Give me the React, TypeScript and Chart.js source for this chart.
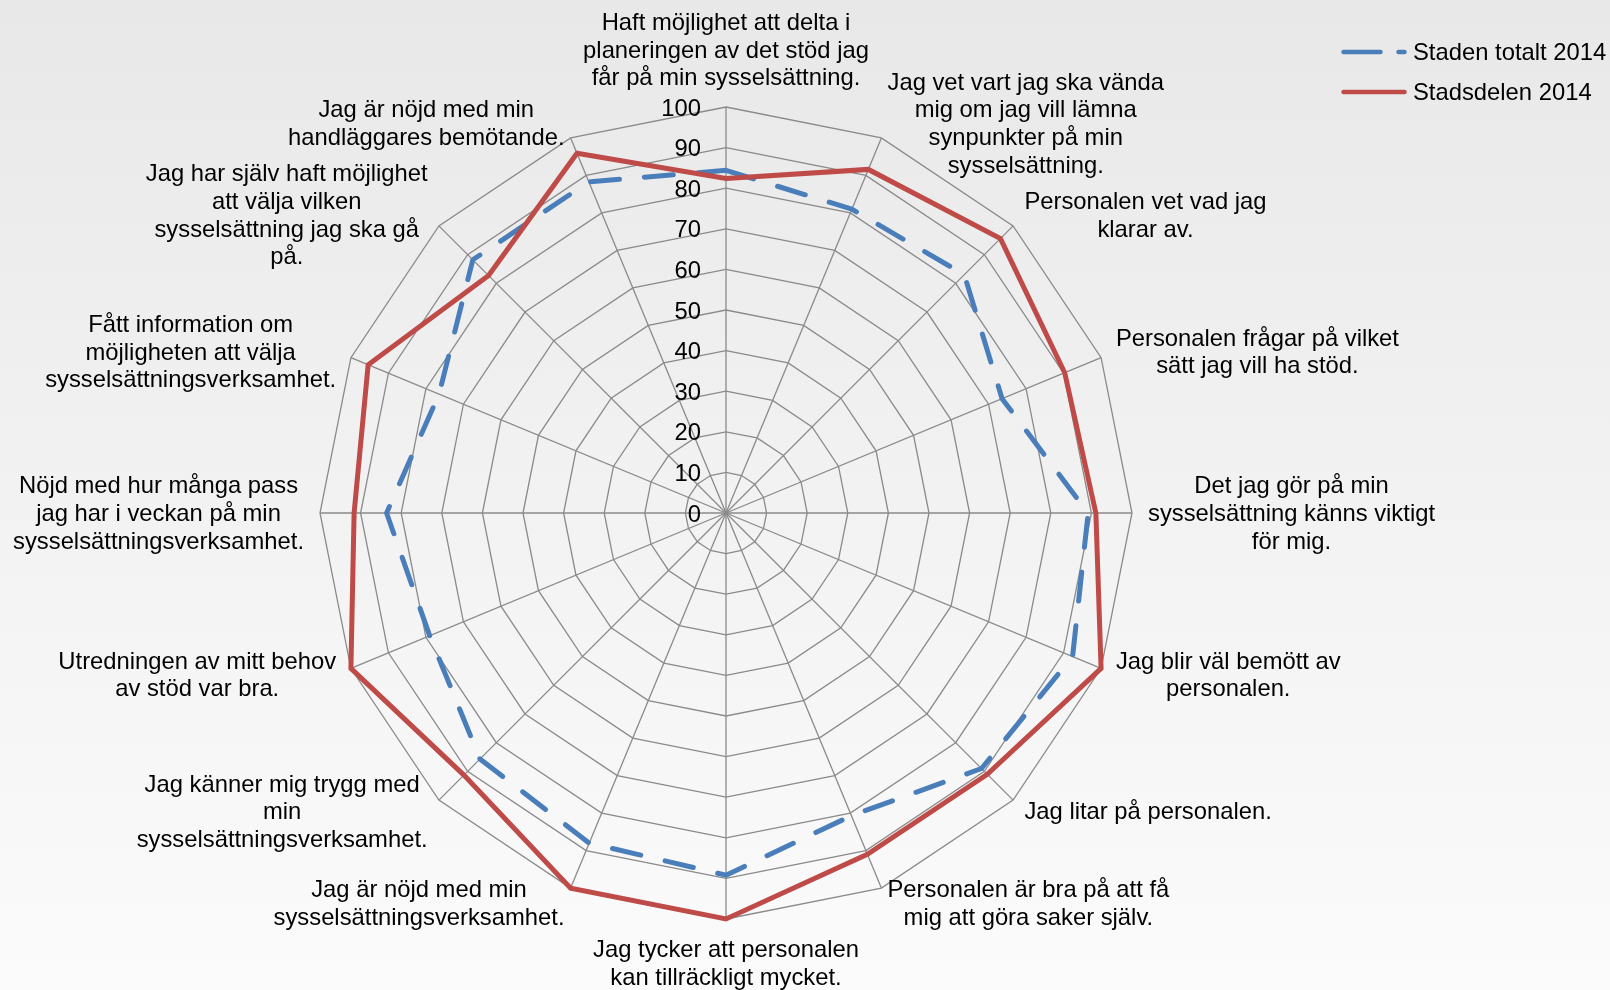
import React, { useEffect, useRef } from "react";
import { Chart, registerables } from "chart.js";

Chart.register(...registerables);

// ---- Data ----
const categories: string[][] = [
  ["Haft möjlighet att delta i", "planeringen av det stöd jag", "får på min sysselsättning."],
  ["Jag vet vart jag ska vända", "mig om jag vill lämna", "synpunkter på min", "sysselsättning."],
  ["Personalen vet vad jag", "klarar av."],
  ["Personalen frågar på vilket", "sätt jag vill ha stöd."],
  ["Det jag gör på min", "sysselsättning känns viktigt", "för mig."],
  ["Jag blir väl bemött av", "personalen."],
  ["Jag litar på personalen."],
  ["Personalen är bra på att få", "mig att göra saker själv."],
  ["Jag tycker att personalen", "kan tillräckligt mycket."],
  ["Jag är nöjd med min", "sysselsättningsverksamhet."],
  ["Jag känner mig trygg med", "min", "sysselsättningsverksamhet."],
  ["Utredningen av mitt behov", "av stöd var bra."],
  ["Nöjd med hur många pass", "jag har i veckan på min", "sysselsättningsverksamhet."],
  ["Fått information om", "möjligheten att välja", "sysselsättningsverksamhet."],
  ["Jag har själv haft möjlighet", "att välja vilken", "sysselsättning jag ska gå", "på."],
  ["Jag är nöjd med min", "handläggares bemötande."],
];

const stadenTotalt2014 = [84.4, 81, 83, 73.6, 89.2, 92.4, 89, 80.7, 89.2, 88, 85.7, 79, 83.6, 76.5, 88.2, 88.3];
const stadsdelen2014 = [82.4, 91.6, 95.6, 90.3, 91.1, 100, 91, 91, 100, 100, 91.3, 100, 91.6, 95.4, 82.7, 95.9];

const seriesNames = ["Staden totalt 2014", "Stadsdelen 2014"];
const tickValues = [0, 10, 20, 30, 40, 50, 60, 70, 80, 90, 100];

// ---- Styles ----
const FONT = '23.8px "Liberation Sans", Arial, Helvetica, sans-serif';
const LINE_HEIGHT = 27.7;
const LABEL_GAP = 16;
const TICK_OFFSET = 25;
const TEXT_DY = 1.5;
const BLUE = "#4A7EBB";
const RED = "#BE4B48";
const GRID = "#8a8a8a";

const textPlugin = {
  id: "excelText",
  afterDraw(chart: any) {
    const scale = chart.scales.r;
    const ctx: CanvasRenderingContext2D = chart.ctx;
    ctx.save();
    ctx.font = FONT;
    ctx.fillStyle = "#000000";
    ctx.textBaseline = "middle";

    // Tick labels, left of the vertical axis
    ctx.textAlign = "right";
    tickValues.forEach((v) => {
      const d = scale.getDistanceFromCenterForValue(v);
      ctx.fillText(String(v), scale.xCenter - TICK_OFFSET, scale.yCenter - d + TEXT_DY + 0.5);
    });

    // Point labels (lines centred, box anchored to the axis end)
    ctx.textAlign = "center";
    const labels = chart.data.labels as string[][];
    labels.forEach((lines, i) => {
      const p = scale.getPointPosition(i, scale.drawingArea + LABEL_GAP);
      const ang = scale.getIndexAngle(i);
      const s = Math.sin(ang);
      const c = Math.cos(ang);
      const w = Math.max(...lines.map((l) => ctx.measureText(l).width));
      const h = lines.length * LINE_HEIGHT;
      let left: number;
      let top: number;
      if (Math.abs(s) < 1e-3) {
        left = p.x - w / 2;
        top = c > 0 ? p.y - h : p.y;
      } else {
        left = s > 0 ? p.x : p.x - w;
        top = p.y - h / 2;
      }
      lines.forEach((l, k) =>
        ctx.fillText(l, left + w / 2, top + (k + 0.5) * LINE_HEIGHT + TEXT_DY)
      );
    });

    // Legend (top right)
    const lx = 1341;
    const lw = 66;
    const ly0 = 52;
    const step = 40;
    chart.data.datasets.forEach((ds: any, i: number) => {
      const y = ly0 + i * step;
      ctx.beginPath();
      ctx.strokeStyle = ds.borderColor;
      ctx.lineWidth = 4.5;
      ctx.lineCap = "round";
      ctx.setLineDash(ds.borderDash && ds.borderDash.length ? [37, 18] : []);
      ctx.moveTo(lx + 2.5, y);
      ctx.lineTo(lx + lw - 2.5, y);
      ctx.stroke();
      ctx.setLineDash([]);
      ctx.textAlign = "left";
      ctx.fillText(ds.label, lx + lw + 6, y + TEXT_DY);
    });
    ctx.restore();
  },
};

export default function App() {
  const ref = useRef<HTMLCanvasElement>(null);

  useEffect(() => {
    if (!ref.current) return;
    const chart = new Chart(ref.current, {
      type: "radar",
      data: {
        labels: categories,
        datasets: [
          {
            label: seriesNames[0],
            data: stadenTotalt2014,
            borderColor: BLUE,
            backgroundColor: "transparent",
            borderWidth: 5,
            borderDash: [29, 25],
            borderCapStyle: "round",
            borderJoinStyle: "round",
            pointRadius: 0,
            pointHoverRadius: 0,
            fill: false,
            order: 1,
          },
          {
            label: seriesNames[1],
            data: stadsdelen2014,
            borderColor: RED,
            backgroundColor: "transparent",
            borderWidth: 5,
            borderJoinStyle: "miter",
            pointRadius: 0,
            pointHoverRadius: 0,
            fill: false,
            order: 0,
          },
        ],
      },
      options: {
        responsive: false,
        animation: false,
        layout: { padding: { left: 320, right: 478, top: 107, bottom: 71 } },
        plugins: {
          legend: { display: false },
          tooltip: { enabled: false },
        },
        elements: { line: { tension: 0 } },
        scales: {
          r: {
            min: 0,
            max: 100,
            beginAtZero: true,
            ticks: { display: false, stepSize: 10 },
            grid: { color: GRID, lineWidth: 1.3, circular: false },
            angleLines: { display: true, color: GRID, lineWidth: 1.3 },
            pointLabels: { display: false },
          },
        },
      },
      plugins: [textPlugin],
    });
    return () => chart.destroy();
  }, []);

  return (
    <div
      style={{
        position: "fixed",
        left: 0,
        top: 0,
        width: 1610,
        height: 990,
        background: "linear-gradient(to bottom, #e8e8e8 0%, #f2f2f2 50%, #fbfbfb 100%)",
      }}
    >
      <canvas ref={ref} width={1610} height={990} style={{ display: "block" }} />
    </div>
  );
}
